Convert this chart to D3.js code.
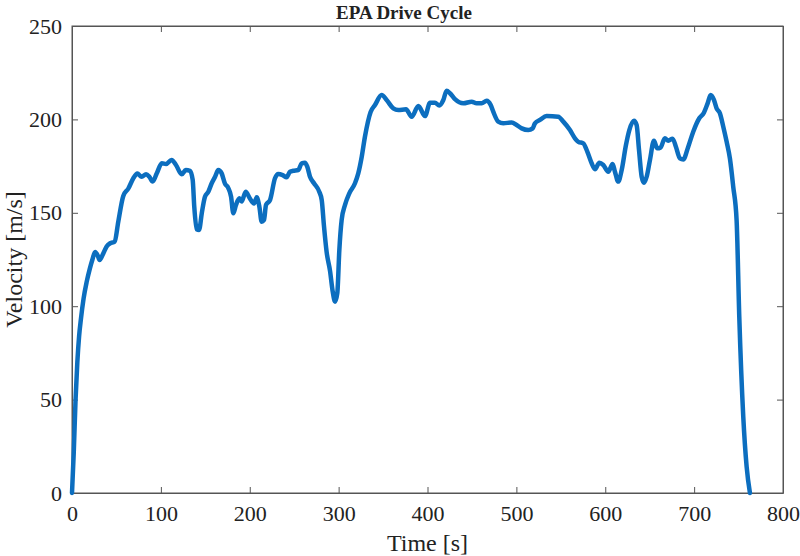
<!DOCTYPE html>
<html>
<head>
<meta charset="utf-8">
<script src="https://cdn.jsdelivr.net/npm/d3@7"></script>
<style>
  html, body { margin: 0; padding: 0; background: #fff; }
  svg { display: block; }
  text { font-family: "Liberation Serif", "Times New Roman", serif; fill: #222; }
</style>
</head>
<body>
<div id="chart"></div>
<script>
const title = "EPA Drive Cycle";
const xLabel = "Time [s]";
const yLabel = "Velocity [m/s]";
const xTicks = [0, 100, 200, 300, 400, 500, 600, 700, 800];
const yTicks = [0, 50, 100, 150, 200, 250];

const time = [0,2,4,6,8,10,13,16.5,20,23,26,29,31,35,39,43,48,52,57.7,63.4,69,73.5,78.4,83.3,87,90.8,95.3,101,105.8,112,117,123.4,128,132.8,135.8,137.6,140.3,143,146,149.6,153.4,157.2,161,164.6,168.4,172,176,179,181.5,184.5,188.3,190.9,195.4,200,204.8,207.8,210.8,213.4,216,218.3,222.8,228.4,232.1,237,241.5,245.3,249,254.6,258.4,262,264.7,267.8,272.3,278.2,281,283.5,286.5,290.3,293.3,296,298.5,300.8,303.4,307.2,312,318.4,322.1,326,329.6,336,340.9,348.4,354,361.5,367.1,375.8,382.2,389.7,397.2,402.8,408.4,413.3,417.8,421.5,425.3,430.9,440.3,449.7,455.3,461,466.6,471.1,474,479.6,485.3,494.7,500.3,506,513.4,518.3,520.9,526.5,534,547.1,552.8,560.3,565.9,569.7,575.3,579.8,584.7,588.4,593.3,597.8,603.4,608.3,610.9,614.6,618.5,623.3,627.1,632.3,635.3,638,641,643.6,646.6,650.3,654.8,658.5,662.3,667.1,670.9,675.8,679.5,684,687.8,693.4,699,705.8,711,715.2,718.6,722.3,725.3,729,732.8,736.6,740.3,744,747.8,750.8,755.3,759.1,762.8];

const velocity = [0,22,50,70,84,93,104,113,120,125,129,127,124.7,128,132,133.7,134.5,145,159,163,168.5,171,169.3,170.6,169.3,166.7,171,176.5,176.1,178.3,175.6,170.6,172.9,172.5,167.6,153,141.2,140.8,149.7,158.6,161.3,165.8,169.3,172.9,171.1,165.8,163.1,158.6,149.7,154.2,157.8,156,161.3,157.8,155,158.3,153.3,145.2,146.1,154.2,156.8,168.5,170.8,170.2,169,172,172.5,172.9,176.5,176.8,174.7,169.3,165.8,161.3,156.8,143,129,119,108,102.4,106.9,130,146.1,154.2,160.4,165.8,171.1,180,190.7,204,207.7,213,210.4,205.9,205,205.4,201.4,207.2,201.8,208.9,208.9,207.5,210.4,215.4,214,210.8,208.6,209.5,208.6,208.6,210,207.7,204.1,198.8,197.9,198.4,197,195.2,194.3,195.2,197.9,199.7,201.8,201.4,198.8,194.3,189.9,188,187.2,182.7,176.5,173.3,176.8,175.6,172,176.1,172,166.7,172.9,186.3,194.3,199.3,197,183.6,169.3,166.1,169.3,178.3,188.6,184.5,185,189.9,188.6,189.7,185.4,179.2,178.6,185.4,193.4,200.6,203.6,208.6,213,210.4,205.9,203.3,196.1,188,179,164,146,94.4,40.8,14,0];

const W = 800, H = 556;
const margin = { left: 72, right: 17, top: 26, bottom: 63 };
const pw = W - margin.left - margin.right;
const ph = H - margin.top - margin.bottom;

const svg = d3.select("#chart").append("svg").attr("width", W).attr("height", H);
const g = svg.append("g").attr("transform", `translate(${margin.left},${margin.top})`);

const x = d3.scaleLinear().domain([0, 800]).range([0, pw]);
const y = d3.scaleLinear().domain([0, 250]).range([ph, 0]);

const axisColor = "#555";
const tickLen = 6;

g.append("rect").attr("x", 0).attr("y", 0).attr("width", pw).attr("height", ph)
  .attr("fill", "none").attr("stroke", axisColor).attr("stroke-width", 1);

const xAxis = g.append("g").attr("transform", `translate(0,${ph})`)
  .call(d3.axisBottom(x).tickValues(xTicks).tickSizeInner(-tickLen).tickSizeOuter(0).tickPadding(12));
const yAxis = g.append("g")
  .call(d3.axisLeft(y).tickValues(yTicks).tickSizeInner(-tickLen).tickSizeOuter(0).tickPadding(10));
const xTop = g.append("g")
  .call(d3.axisTop(x).tickValues(xTicks).tickSizeInner(-tickLen).tickSizeOuter(0).tickFormat(""));
const yRight = g.append("g").attr("transform", `translate(${pw},0)`)
  .call(d3.axisRight(y).tickValues(yTicks).tickSizeInner(-tickLen).tickSizeOuter(0).tickFormat(""));

[xAxis, yAxis, xTop, yRight].forEach(a => {
  a.select(".domain").attr("stroke", axisColor);
  a.selectAll(".tick line").attr("stroke", axisColor);
  a.selectAll(".tick text").attr("font-size", 22).attr("fill", "#222");
});
xAxis.selectAll(".tick text").attr("dy", "0.71em");

const data = time.map((t, i) => ({ t, v: velocity[i] }));
const line = d3.line().x(d => x(d.t)).y(d => y(d.v)).curve(d3.curveMonotoneX);
g.append("path").datum(data).attr("d", line)
  .attr("fill", "none").attr("stroke", "#0C6EBF").attr("stroke-width", 4.5)
  .attr("stroke-linejoin", "round").attr("stroke-linecap", "round");

svg.append("text").attr("x", 404).attr("y", 19).attr("text-anchor", "middle")
  .attr("font-size", 19).attr("font-weight", "bold").text(title);

svg.append("text").attr("x", margin.left + pw / 2).attr("y", 551).attr("text-anchor", "middle")
  .attr("font-size", 24).text(xLabel);
svg.append("text").attr("transform", `translate(22,${margin.top + ph / 2}) rotate(-90)`)
  .attr("text-anchor", "middle").attr("font-size", 24).text(yLabel);
</script>
</body>
</html>
